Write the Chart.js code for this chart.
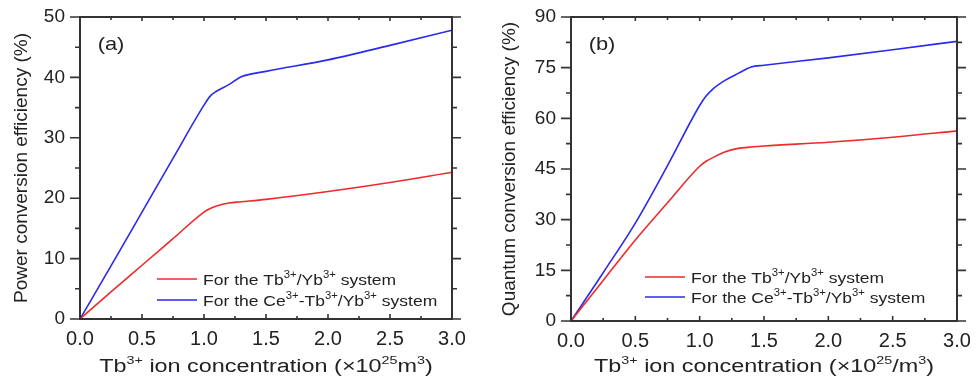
<!DOCTYPE html>
<html>
<head>
<meta charset="utf-8">
<script src="https://cdn.jsdelivr.net/npm/chart.js@4"></script>
<style>
  html, body { margin: 0; padding: 0; background: #fff; }
  .panel { position: absolute; top: 0; height: 381px; }
  #panelA { left: 0; width: 488px; }
  #panelB { left: 488px; width: 489px; }
</style>
</head>
<body>
<div class="panel" id="panelA"><canvas id="chartA"></canvas></div>
<div class="panel" id="panelB"><canvas id="chartB"></canvas></div>
<script>
// ─── DATA ────────────────────────────────────────────────────────────────────
// Tb3+ concentration (x10^25 /m^3)
const CONC_A  = [0, 0.25, 0.5, 0.75, 1.0, 1.05, 1.1, 1.2, 1.3, 1.5, 2.0, 2.5, 3.0];
const PCE_TB  = [0, 4.5, 8.9, 13.3, 17.7, 18.3, 18.7, 19.2, 19.4, 19.8, 21.1, 22.6, 24.3];
const PCE_CE  = [0, 8.8, 17.7, 26.6, 35.4, 36.9, 37.7, 38.8, 40.1, 41.0, 42.9, 45.3, 47.8];

const CONC_B  = [0, 0.25, 0.5, 0.75, 1.0, 1.05, 1.1, 1.2, 1.3, 1.4, 1.5, 2.0, 2.5, 3.0];
const QCE_TB  = [0, 12.0, 24.0, 35.0, 45.8, 47.3, 48.3, 50.1, 51.1, 51.5, 51.8, 52.9, 54.4, 56.3];
const QCE_CE  = [0, 14.3, 29.0, 46.0, 63.8, 66.6, 68.6, 71.3, 73.3, 75.2, 75.7, 77.9, 80.3, 82.8];

const X_TICKS = [0, 0.5, 1.0, 1.5, 2.0, 2.5, 3.0];
const LABEL_TB = 'For the Tb^{3+}/Yb^{3+} system';
const LABEL_CE = 'For the Ce^{3+}-Tb^{3+}/Yb^{3+} system';

const FONT  = "'Liberation Sans', Arial, sans-serif";
const INK   = '#222';
const FRAME = '#333';
const RED   = '#ee2a2a';
const BLUE  = '#2a2aee';

// ─── HELPERS ─────────────────────────────────────────────────────────────────
// draws text where ^{...} parts are superscripts; sx stretches it sideways
function drawRich(ctx, text, x, y, size, align, sx = 1) {
  const parts = text.split(/\^\{([^}]*)\}/);
  const supSize = Math.round(size * 0.62);
  let width = 0;
  parts.forEach((p, i) => {
    ctx.font = `${i % 2 ? supSize : size}px ${FONT}`;
    width += ctx.measureText(p).width;
  });
  ctx.save();
  ctx.translate(align === 'center' ? x - width * sx / 2 : x, y);
  ctx.scale(sx, 1);
  ctx.textAlign = 'left';
  ctx.textBaseline = 'alphabetic';
  let cx = 0;
  parts.forEach((p, i) => {
    const sup = i % 2 === 1;
    ctx.font = `${sup ? supSize : size}px ${FONT}`;
    ctx.fillText(p, cx, sup ? -size * 0.42 : 0);
    cx += ctx.measureText(p).width;
  });
  ctx.restore();
}

const pts = (xs, ys) => xs.map((x, i) => ({ x, y: ys[i] }));

// frame, ticks, panel label, legend and x title
const decorPlugin = {
  id: 'decor',
  afterDraw(chart, args, opts) {
    const { ctx, chartArea: a, scales } = chart;
    const xs = scales.x, ys = scales.y;
    ctx.save();
    ctx.strokeStyle = FRAME;
    ctx.lineWidth = 2;
    ctx.strokeRect(a.left, a.top, a.right - a.left, a.bottom - a.top);

    ctx.lineWidth = 1.6;
    ctx.beginPath();
    const xt = xs.ticks.map(t => t.value);
    xt.forEach((v, i) => {
      const px = xs.getPixelForValue(v);
      ctx.moveTo(px, a.bottom); ctx.lineTo(px, a.bottom - 5);
      ctx.moveTo(px, a.top);    ctx.lineTo(px, a.top + 4);
      if (i < xt.length - 1) {
        const mx = xs.getPixelForValue((v + xt[i + 1]) / 2);
        ctx.moveTo(mx, a.bottom); ctx.lineTo(mx, a.bottom - 3);
        ctx.moveTo(mx, a.top);    ctx.lineTo(mx, a.top + 3);
      }
    });
    const yt = ys.ticks.map(t => t.value);
    yt.forEach((v, i) => {
      const py = ys.getPixelForValue(v);
      ctx.moveTo(a.left, py);  ctx.lineTo(a.left - 10, py);
      ctx.moveTo(a.right, py); ctx.lineTo(a.right + 9, py);
      if (i < yt.length - 1) {
        const my = ys.getPixelForValue((v + yt[i + 1]) / 2);
        ctx.moveTo(a.left, my);  ctx.lineTo(a.left - 5, my);
        ctx.moveTo(a.right, my); ctx.lineTo(a.right + 5, my);
      }
    });
    ctx.stroke();

    // panel label
    ctx.fillStyle = INK;
    drawRich(ctx, opts.panel, a.left + 31, a.top + 33, 19, 'center', 1.15);

    // legend
    chart.data.datasets.forEach((ds, i) => {
      const ly = opts.legendY + i * opts.legendGap;
      ctx.strokeStyle = ds.borderColor;
      ctx.lineWidth = 1.5;
      ctx.beginPath();
      ctx.moveTo(opts.legendX, ly);
      ctx.lineTo(opts.legendX + 40, ly);
      ctx.stroke();
      ctx.fillStyle = INK;
      drawRich(ctx, ds.label, opts.legendX + 46, ly + 5.5, 15.5, 'left', 1.13);
    });

    // x axis title
    ctx.fillStyle = INK;
    drawRich(ctx, opts.xTitle, (a.left + a.right) / 2, 372, 18, 'center', 1.3);
    ctx.restore();
  }
};

function buildChart(id, xs, red, blue, cfg) {
  const ctx = document.getElementById(id).getContext('2d');
  return new Chart(ctx, {
    type: 'line',
    data: {
      datasets: [
        { label: LABEL_TB, data: pts(xs, red), borderColor: RED, borderWidth: 1.6,
          pointRadius: 0, cubicInterpolationMode: 'monotone', fill: false },
        { label: LABEL_CE, data: pts(xs, blue), borderColor: BLUE, borderWidth: 1.6,
          pointRadius: 0, cubicInterpolationMode: 'monotone', fill: false },
      ]
    },
    options: {
      responsive: true,
      maintainAspectRatio: false,
      animation: false,
      layout: { padding: { left: 0, top: 17, right: cfg.padRight, bottom: 0 } },
      plugins: {
        legend: { display: false },
        tooltip: { enabled: false },
        decor: cfg.decor,
      },
      scales: {
        x: {
          type: 'linear', min: 0, max: 3,
          afterBuildTicks: s => { s.ticks = X_TICKS.map(v => ({ value: v })); },
          afterFit: s => { s.height = cfg.xHeight; s.paddingLeft = 0; s.paddingRight = 0; },
          grid: { display: false, drawTicks: false },
          border: { display: false },
          ticks: { color: INK, padding: 8, font: { family: FONT, size: 20 },
                   maxRotation: 0, callback: v => v.toFixed(1) },
        },
        y: {
          min: 0, max: cfg.yMax,
          afterFit: s => { s.width = cfg.yWidth; s.paddingTop = 0; s.paddingBottom = 0; },
          grid: { display: false, drawTicks: false },
          border: { display: false },
          ticks: { color: INK, padding: 15, stepSize: cfg.yStep, font: { family: FONT, size: 19 } },
          title: { display: true, text: cfg.yTitle, color: INK,
                   font: { family: FONT, size: 19 }, padding: { top: 10, bottom: 0 } },
        }
      }
    },
    plugins: [decorPlugin]
  });
}

// ─── INIT ────────────────────────────────────────────────────────────────────
buildChart('chartA', CONC_A, PCE_TB, PCE_CE, {
  yMax: 50, yStep: 10, yWidth: 80, xHeight: 62, padRight: 36,
  yTitle: 'Power conversion efficiency (%)',
  decor: { panel: '(a)', legendX: 157, legendY: 279, legendGap: 21,
           xTitle: 'Tb^{3+} ion concentration (\u00d710^{25}m^{3})' }
});

buildChart('chartB', CONC_B, QCE_TB, QCE_CE, {
  yMax: 90, yStep: 15, yWidth: 83, xHeight: 60, padRight: 20,
  yTitle: 'Quantum conversion efficiency (%)',
  decor: { panel: '(b)', legendX: 157, legendY: 277, legendGap: 20,
           xTitle: 'Tb^{3+} ion concentration (\u00d710^{25}/m^{3})' }
});
</script>
</body>
</html>
